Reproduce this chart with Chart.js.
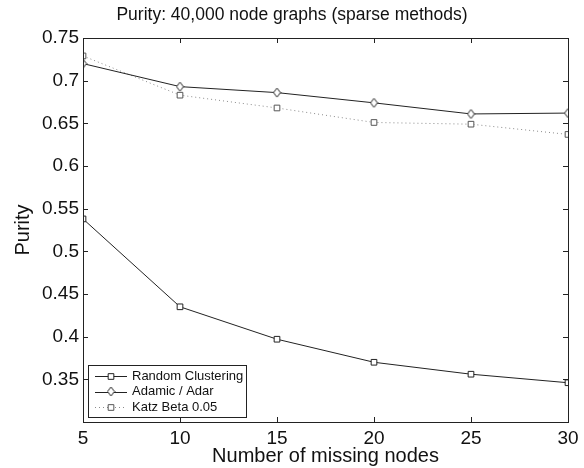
<!DOCTYPE html>
<html>
<head>
<meta charset="utf-8">
<script src="https://cdn.jsdelivr.net/npm/chart.js@4"></script>
<style>
  html, body { margin: 0; padding: 0; background: #fff; }
  #wrap { width: 584px; height: 468px; }
</style>
</head>
<body>
<div id="wrap"><canvas id="chart" width="584" height="468"></canvas></div>
<script>
var missingNodes = [5, 10, 15, 20, 25, 30];
var randomClustering = [0.538, 0.435, 0.397, 0.370, 0.356, 0.346];
var adamicAdar = [0.720, 0.693, 0.686, 0.674, 0.661, 0.662];
var katzBeta = [0.729, 0.683, 0.668, 0.651, 0.649, 0.637];
var seriesNames = ['Random Clustering', 'Adamic / Adar', 'Katz Beta 0.05'];
var yTicks = [0.35, 0.4, 0.45, 0.5, 0.55, 0.6, 0.65, 0.7, 0.75];

var FONT = '"Liberation Sans", Arial, Helvetica, sans-serif';
var INK = '#222';

// narrow matlab-like diamond marker
function diamond(w, h, color) {
  var c = document.createElement('canvas');
  c.width = w + 2; c.height = h + 2;
  var g = c.getContext('2d');
  g.strokeStyle = color; g.lineWidth = 1;
  g.beginPath();
  g.moveTo(c.width / 2, 1);
  g.lineTo(c.width - 1, c.height / 2);
  g.lineTo(c.width / 2, c.height - 1);
  g.lineTo(1, c.height / 2);
  g.closePath();
  g.fillStyle = '#fff'; g.fill();
  g.stroke();
  return c;
}
var diamondMark = diamond(7, 9, INK);

function pts(vals) {
  return vals.map(function (v, i) { return { x: missingNodes[i], y: v }; });
}

// box + inward ticks on all four sides
var boxTicks = {
  id: 'boxTicks',
  afterDraw: function (chart) {
    var a = chart.chartArea, ctx = chart.ctx;
    var xs = chart.scales.x, ys = chart.scales.y;
    ctx.save();
    ctx.strokeStyle = INK; ctx.lineWidth = 1;
    ctx.strokeRect(Math.round(a.left) + 0.5, Math.round(a.top) + 0.5,
      Math.round(a.right - a.left), Math.round(a.bottom - a.top));
    ctx.beginPath();
    missingNodes.forEach(function (v) {
      var px = Math.round(xs.getPixelForValue(v)) + 0.5;
      ctx.moveTo(px, a.bottom); ctx.lineTo(px, a.bottom - 5);
      ctx.moveTo(px, a.top); ctx.lineTo(px, a.top + 5);
    });
    yTicks.forEach(function (v) {
      var py = Math.round(ys.getPixelForValue(v)) + 0.5;
      ctx.moveTo(a.left, py); ctx.lineTo(a.left + 5, py);
      ctx.moveTo(a.right, py); ctx.lineTo(a.right - 5, py);
    });
    ctx.stroke();
    ctx.restore();
  }
};

// legend box in lower left corner of the axes
var cornerLegend = {
  id: 'cornerLegend',
  afterDraw: function (chart) {
    var ctx = chart.ctx, a = chart.chartArea;
    var bx = a.left + 5, by = 365, bw = 158, bh = 52;
    ctx.save();
    ctx.fillStyle = '#fff';
    ctx.fillRect(bx, by, bw, bh);
    ctx.strokeStyle = INK; ctx.lineWidth = 1;
    ctx.strokeRect(bx + 0.5, by + 0.5, bw, bh);
    ctx.font = '13px ' + FONT;
    ctx.textBaseline = 'middle';
    chart.data.datasets.forEach(function (ds, i) {
      var y = by + 11 + i * 15.5;
      ctx.save();
      ctx.strokeStyle = ds.borderColor;
      ctx.setLineDash(ds.borderDash || []);
      ctx.beginPath();
      ctx.moveTo(bx + 7, Math.round(y) + 0.5);
      ctx.lineTo(bx + 39, Math.round(y) + 0.5);
      ctx.stroke();
      ctx.restore();
      var ptStyle = ds.pointStyle;
      if (typeof ptStyle === 'string') {
        ctx.save();
        ctx.strokeStyle = ds.pointBorderColor; ctx.fillStyle = '#fff'; ctx.lineWidth = 1;
        Chart.helpers.drawPoint(ctx, { pointStyle: ptStyle, radius: ds.pointRadius, borderWidth: 1 },
          bx + 23, Math.round(y) + 0.5);
        ctx.restore();
      } else {
        ctx.drawImage(ptStyle, bx + 23 - ptStyle.width / 2, y - ptStyle.height / 2);
      }
      ctx.fillStyle = '#111';
      ctx.fillText(ds.label, bx + 44, y);
    });
    ctx.restore();
  }
};

new Chart(document.getElementById('chart').getContext('2d'), {
  type: 'line',
  data: {
    datasets: [
      {
        label: seriesNames[0],
        data: pts(randomClustering),
        borderColor: INK, borderWidth: 1,
        pointStyle: 'rect', pointRadius: 4,
        pointBorderColor: INK, pointBackgroundColor: '#fff', pointBorderWidth: 1,
        tension: 0
      },
      {
        label: seriesNames[1],
        data: pts(adamicAdar),
        borderColor: INK, borderWidth: 1,
        pointStyle: diamondMark, pointRadius: 4,
        pointBorderColor: INK, pointBackgroundColor: '#fff', pointBorderWidth: 1,
        tension: 0
      },
      {
        label: seriesNames[2],
        data: pts(katzBeta),
        borderColor: '#8a8a8a', borderWidth: 1, borderDash: [1, 3],
        pointStyle: 'rect', pointRadius: 4,
        pointBorderColor: '#555', pointBackgroundColor: '#fff', pointBorderWidth: 1,
        tension: 0
      }
    ]
  },
  options: {
    responsive: false,
    animation: false,
    layout: { padding: 0 },
    plugins: {
      legend: { display: false },
      tooltip: { enabled: false },
      title: {
        display: true,
        text: 'Purity: 40,000 node graphs (sparse methods)',
        color: '#111',
        font: { family: FONT, size: 17.5, weight: 'normal' },
        padding: { top: 5, bottom: 12 }
      }
    },
    scales: {
      x: {
        type: 'linear',
        min: 5, max: 30,
        afterBuildTicks: function (s) { s.ticks = missingNodes.map(function (v) { return { value: v }; }); },
        afterFit: function (s) { s.height = 46; },
        grid: { display: false, drawTicks: false },
        border: { display: false },
        ticks: { color: '#111', padding: 5, maxRotation: 0, font: { family: FONT, size: 19 } },
        title: {
          display: true, text: 'Number of missing nodes', color: '#111',
          font: { family: FONT, size: 20 }, padding: { top: 0, bottom: 0 }
        }
      },
      y: {
        min: 0.3, max: 0.75,
        afterBuildTicks: function (s) { s.ticks = yTicks.map(function (v) { return { value: v }; }); },
        afterFit: function (s) { s.width = 83; },
        grid: { display: false, drawTicks: false },
        border: { display: false },
        ticks: {
          color: '#111', padding: 4, font: { family: FONT, size: 19 },
          callback: function (v) { return String(parseFloat(Number(v).toFixed(2))); }
        },
        title: {
          display: true, text: 'Purity', color: '#111',
          font: { family: FONT, size: 20 }, padding: { top: 11, bottom: 0 }
        }
      },
      // empty right-hand strip so the title stays centred on the canvas
      yRight: {
        position: 'right',
        min: 0.3, max: 0.75,
        afterFit: function (s) { s.width = 16; },
        grid: { display: false, drawTicks: false },
        border: { display: false },
        ticks: { display: false }
      }
    }
  },
  plugins: [boxTicks, cornerLegend]
});
</script>
</body>
</html>
